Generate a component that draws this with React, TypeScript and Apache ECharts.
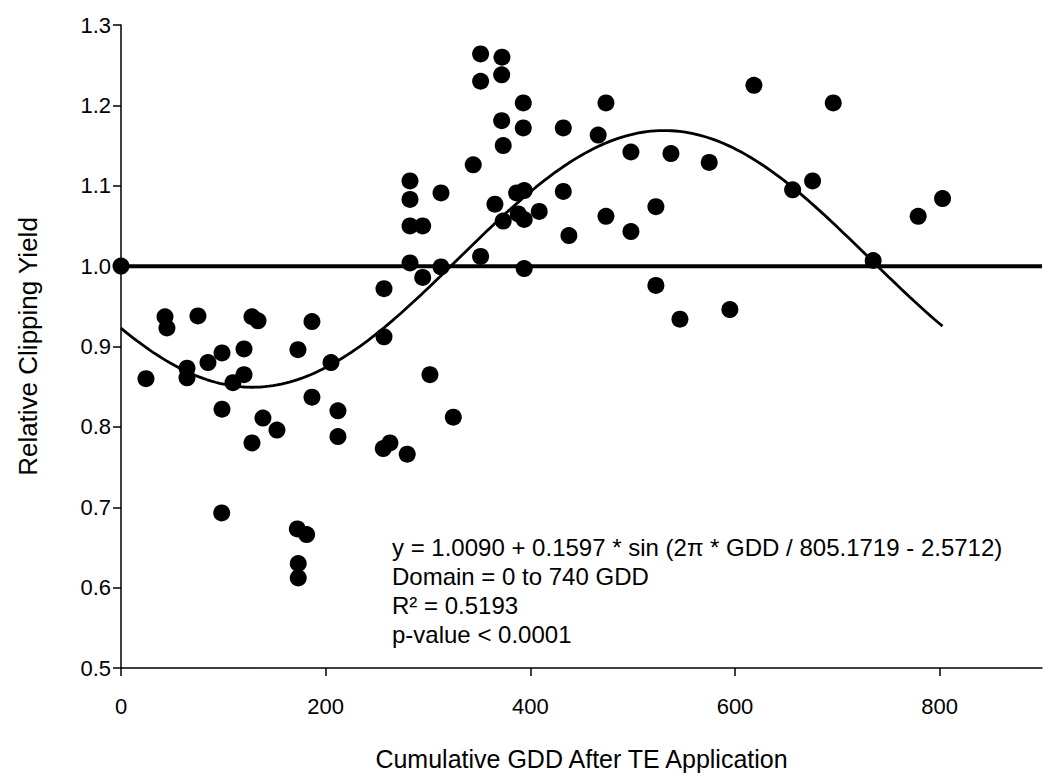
import React, { useEffect, useRef } from "react";
import * as echarts from "echarts";

// Observed plots: cumulative growing degree days after TE application
const gdd: number[] = [
  0, 24.4, 43.0, 44.9, 64.5, 64.5, 75.2, 85.0, 98.7, 98.7, 98.4, 109.4, 120.2, 120.2,
  128.0, 133.9, 128.0, 138.7, 152.4, 172.9, 172.3, 181.4, 173.2, 173.2, 186.6, 186.6,
  205.2, 212.0, 212.0, 257.0, 257.0, 256.3, 262.8, 279.7, 282.4, 282.4, 282.4, 294.8,
  282.4, 294.8, 301.9, 312.7, 312.7, 324.7, 344.2, 351.4, 351.4, 351.4, 372.3, 372.0,
  372.0, 373.5, 373.5, 365.4, 386.6, 394.0, 388.2, 394.0, 393.1, 393.1, 394.0, 408.7,
  432.2, 432.2, 437.7, 466.3, 473.9, 473.9, 498.3, 498.3, 522.7, 522.7, 537.4, 546.2,
  574.8, 595.0, 618.5, 656.3, 675.8, 696.0, 735.0, 779.0, 802.8,
];

// Relative clipping yield for each plot (same order as gdd)
const relYield: number[] = [
  1.0, 0.86, 0.937, 0.923, 0.873, 0.861, 0.938, 0.88, 0.892, 0.822, 0.693, 0.855, 0.897, 0.865,
  0.937, 0.932, 0.78, 0.811, 0.796, 0.896, 0.673, 0.666, 0.63, 0.612, 0.931, 0.837,
  0.88, 0.82, 0.788, 0.972, 0.912, 0.773, 0.78, 0.766, 1.106, 1.083, 1.05, 1.05,
  1.004, 0.986, 0.865, 1.091, 0.999, 0.812, 1.126, 1.264, 1.23, 1.012, 1.26, 1.238,
  1.181, 1.15, 1.056, 1.077, 1.091, 1.094, 1.065, 1.058, 1.203, 1.172, 0.997, 1.068,
  1.172, 1.093, 1.038, 1.163, 1.203, 1.062, 1.142, 1.043, 1.074, 0.976, 1.14, 0.934,
  1.129, 0.946, 1.225, 1.095, 1.106, 1.203, 1.007, 1.062, 1.084,
];

// Sine model coefficients: y = a + b * sin(2*pi*GDD / period - phase)
const fitA = 1.009;
const fitB = 0.1597;
const fitPeriod = 805.1719;
const fitPhase = 2.5712;
const fitRange: [number, number] = [0, 802.8];

// Reference line at relative yield 1.0 across the x range
const refLine: [number, number][] = [
  [0, 1.0],
  [900, 1.0],
];

const xTicks = [0, 200, 400, 600, 800];

const annotationLines = [
  "y = 1.0090 + 0.1597 * sin (2\u03c0 * GDD / 805.1719 - 2.5712)",
  "Domain = 0 to 740 GDD",
  "R\u00b2 = 0.5193",
  "p-value < 0.0001",
];

const FONT = "'Liberation Sans', Arial, Helvetica, sans-serif";

function fitCurve(): [number, number][] {
  const pts: [number, number][] = [];
  const steps = 200;
  for (let i = 0; i <= steps; i++) {
    const x = fitRange[0] + ((fitRange[1] - fitRange[0]) * i) / steps;
    const y = fitA + fitB * Math.sin((2 * Math.PI * x) / fitPeriod - fitPhase);
    pts.push([x, y]);
  }
  return pts;
}

export default function App() {
  const ref = useRef<HTMLDivElement>(null);

  useEffect(() => {
    if (!ref.current) return;
    const chart = echarts.init(ref.current, null, { renderer: "svg" });
    const scatterData = gdd.map((x, i) => [x, relYield[i]]);

    chart.setOption({
      animation: false,
      backgroundColor: "#ffffff",
      textStyle: { fontFamily: FONT },
      grid: { left: 121, right: 7, top: 25, bottom: 109, containLabel: false },
      xAxis: {
        type: "value",
        min: 0,
        max: 900,
        interval: 200,
        name: "Cumulative GDD After TE Application",
        nameLocation: "middle",
        nameGap: 78,
        nameTextStyle: { color: "#000", fontSize: 25, fontFamily: FONT },
        axisLine: { show: true, onZero: false, lineStyle: { color: "#000", width: 1.5 } },
        axisTick: {
          show: true,
          length: 8,
          customValues: xTicks,
          lineStyle: { color: "#000", width: 1.5 },
        },
        axisLabel: {
          color: "#000",
          fontSize: 22,
          fontFamily: FONT,
          margin: 27,
          customValues: xTicks,
        },
        splitLine: { show: false },
      },
      yAxis: {
        type: "value",
        min: 0.5,
        max: 1.3,
        interval: 0.1,
        name: "Relative Clipping Yield",
        nameLocation: "middle",
        nameGap: 80,
        nameTextStyle: { color: "#000", fontSize: 26, fontFamily: FONT },
        axisLine: { show: true, onZero: false, lineStyle: { color: "#000", width: 1.5 } },
        axisTick: { show: true, length: 8, lineStyle: { color: "#000", width: 1.5 } },
        axisLabel: {
          color: "#000",
          fontSize: 22,
          fontFamily: FONT,
          margin: 10,
          formatter: (v: number) => v.toFixed(1),
        },
        splitLine: { show: false },
      },
      series: [
        {
          type: "line",
          data: refLine,
          symbol: "none",
          lineStyle: { color: "#000", width: 4 },
          z: 2,
        },
        {
          type: "line",
          data: fitCurve(),
          symbol: "none",
          smooth: false,
          lineStyle: { color: "#000", width: 2.8 },
          z: 3,
        },
        {
          type: "scatter",
          data: scatterData,
          symbol: "circle",
          symbolSize: 17,
          itemStyle: { color: "#000", opacity: 1 },
          z: 4,
        },
      ],
      graphic: annotationLines.map((t, i) => ({
        type: "text",
        left: 392,
        top: 535 + i * 29,
        style: {
          text: t,
          fill: "#000",
          fontSize: 24,
          fontFamily: FONT,
        },
      })),
    });

    return () => chart.dispose();
  }, []);

  return (
    <div
      ref={ref}
      style={{ position: "fixed", left: 0, top: 0, width: 1049, height: 777 }}
    />
  );
}
